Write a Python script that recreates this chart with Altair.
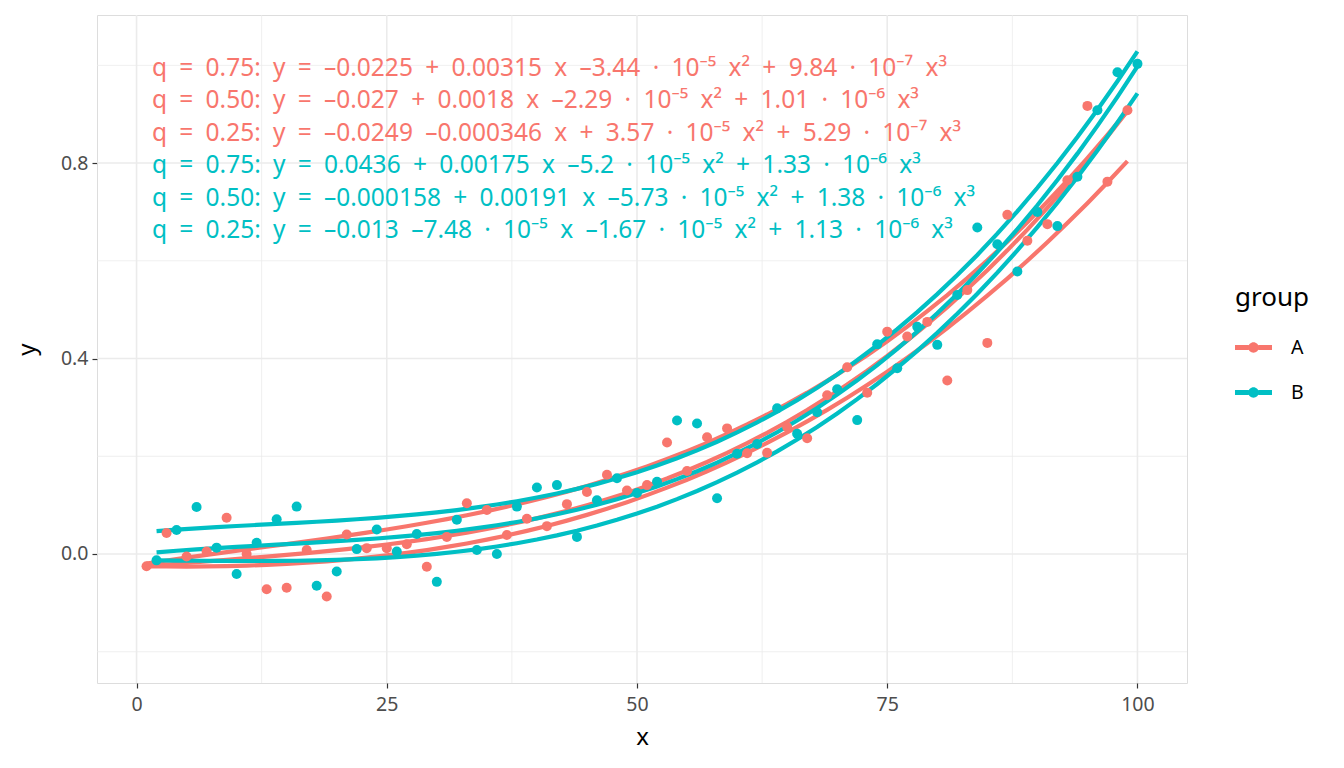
import altair as alt
import numpy as np
import pandas as pd

# ---- data ----
xA = list(range(1, 100, 2))
yA = [-0.025, 0.043, -0.005, 0.005, 0.074, 0.000, -0.072, -0.069, 0.008, -0.087,
      0.040, 0.012, 0.012, 0.020, -0.026, 0.035, 0.104, 0.090, 0.039, 0.072,
      0.057, 0.102, 0.127, 0.162, 0.130, 0.141, 0.228, 0.170, 0.239, 0.257,
      0.206, 0.207, 0.260, 0.237, 0.325, 0.382, 0.330, 0.455, 0.445, 0.475,
      0.355, 0.540, 0.432, 0.694, 0.641, 0.675, 0.765, 0.917, 0.762, 0.908]
xB = list(range(2, 101, 2))
yB = [-0.013, 0.049, 0.096, 0.013, -0.041, 0.023, 0.071, 0.097, -0.065, -0.036,
      0.010, 0.050, 0.005, 0.041, -0.057, 0.070, 0.008, 0.000, 0.097, 0.136,
      0.141, 0.035, 0.110, 0.155, 0.125, 0.148, 0.273, 0.267, 0.114, 0.205,
      0.225, 0.298, 0.246, 0.290, 0.337, 0.274, 0.429, 0.380, 0.465, 0.428,
      0.530, 0.668, 0.634, 0.578, 0.700, 0.671, 0.772, 0.908, 0.986, 1.003]

quantiles = ["0.75", "0.50", "0.25"]
coefA = [[-0.0225, 0.00315, -3.44e-5, 9.84e-7],
         [-0.027, 0.0018, -2.29e-5, 1.01e-6],
         [-0.0249, -0.000346, 3.57e-5, 5.29e-7]]
coefB = [[0.0436, 0.00175, -5.2e-5, 1.33e-6],
         [-0.000158, 0.00191, -5.73e-5, 1.38e-6],
         [-0.013, -7.48e-5, -1.67e-5, 1.13e-6]]

labelsA = ["q = 0.75: y = –0.0225 + 0.00315 x –3.44 · 10⁻⁵ x² + 9.84 · 10⁻⁷ x³",
           "q = 0.50: y = –0.027 + 0.0018 x –2.29 · 10⁻⁵ x² + 1.01 · 10⁻⁶ x³",
           "q = 0.25: y = –0.0249 –0.000346 x + 3.57 · 10⁻⁵ x² + 5.29 · 10⁻⁷ x³"]
labelsB = ["q = 0.75: y = 0.0436 + 0.00175 x –5.2 · 10⁻⁵ x² + 1.33 · 10⁻⁶ x³",
           "q = 0.50: y = –0.000158 + 0.00191 x –5.73 · 10⁻⁵ x² + 1.38 · 10⁻⁶ x³",
           "q = 0.25: y = –0.013 –7.48 · 10⁻⁵ x –1.67 · 10⁻⁵ x² + 1.13 · 10⁻⁶ x³"]

groups = ["A", "B"]
colors = ["#F8766D", "#00BFC4"]
x_major = [0, 25, 50, 75, 100]
x_minor = [12.5, 37.5, 62.5, 87.5]
y_major = [0.0, 0.4, 0.8]
y_minor = [-0.2, 0.2, 0.6, 1.0]

# ---- tables ----
pts = pd.DataFrame({"x": xA + xB, "y": yA + yB,
                    "group": ["A"] * len(xA) + ["B"] * len(xB)})

rows = []
for g, xs, coefs in [("A", xA, coefA), ("B", xB, coefB)]:
    xs_arr = np.array(xs, dtype=float)
    for q, c in zip(quantiles, coefs):
        yv = c[0] + c[1] * xs_arr + c[2] * xs_arr ** 2 + c[3] * xs_arr ** 3
        for xv, yy in zip(xs_arr, yv):
            rows.append({"x": xv, "y": yy, "group": g, "q": q, "key": g + q})
curves = pd.DataFrame(rows)


def widen(s):
    # plotmath-like wider spacing
    return s.replace(" ", "\u2002")


FONT = "Noto Sans"
xscale = alt.Scale(domain=[-3.95, 104.95], nice=False, zero=False)
yscale = alt.Scale(domain=[-0.264, 1.103], nice=False, zero=False)
cscale = alt.Scale(domain=groups, range=colors)

grid_col = "#EBEBEB"
gx_minor = alt.Chart(pd.DataFrame({"v": x_minor})).mark_rule(color=grid_col, strokeWidth=0.8).encode(
    x=alt.X("v:Q", scale=xscale))
gy_minor = alt.Chart(pd.DataFrame({"v": y_minor})).mark_rule(color=grid_col, strokeWidth=0.8).encode(
    y=alt.Y("v:Q", scale=yscale))
gx_major = alt.Chart(pd.DataFrame({"v": x_major})).mark_rule(color=grid_col, strokeWidth=1.6).encode(
    x=alt.X("v:Q", scale=xscale))
gy_major = alt.Chart(pd.DataFrame({"v": y_major})).mark_rule(color=grid_col, strokeWidth=1.6).encode(
    y=alt.Y("v:Q", scale=yscale))

axis_common = dict(grid=False, domain=False, tickColor="#333333", tickSize=5, tickWidth=1.2,
                   labelFontSize=19.5, labelColor="#4D4D4D", labelFont=FONT,
                   titleFontSize=24, titleFontWeight="normal", titleColor="black", titleFont=FONT)

legend_path = ("M-1,-0.135L-0.26,-0.135L-0.26,0.135L-1,0.135Z"
               "M0.26,-0.135L1,-0.135L1,0.135L0.26,0.135Z"
               "M-0.28,0A0.28,0.28 0 1,1 0.28,0A0.28,0.28 0 1,1 -0.28,0Z")

points = alt.Chart(pts).mark_circle(size=100, opacity=1).encode(
    x=alt.X("x:Q", scale=xscale, title="x",
            axis=alt.Axis(values=x_major, labelPadding=7, titlePadding=12, **axis_common)),
    y=alt.Y("y:Q", scale=yscale, title="y",
            axis=alt.Axis(values=y_major, format=".1f", labelPadding=4, titlePadding=21, **axis_common)),
    color=alt.Color("group:N", scale=cscale, title="group",
                    legend=alt.Legend(orient="none", legendX=1138, legendY=270,
                                      symbolType=legend_path, symbolSize=1369,
                                      symbolStrokeWidth=0, titleFontSize=26,
                                      titleFontWeight="normal", titleColor="black",
                                      titleFont=FONT, labelFont=FONT, labelFontSize=19.5,
                                      labelColor="black", labelOffset=19, rowPadding=17,
                                      titlePadding=18, padding=0)),
)

lines = alt.Chart(curves).mark_line(strokeWidth=4.2).encode(
    x=alt.X("x:Q", scale=xscale),
    y=alt.Y("y:Q", scale=yscale),
    color=alt.Color("group:N", scale=cscale),
    detail="key:N",
)

texts = []
all_labels = [(l, colors[0]) for l in labelsA] + [(l, colors[1]) for l in labelsB]
for i, (lab, col) in enumerate(all_labels):
    t = alt.Chart(pd.DataFrame({"label": [widen(lab)]})).mark_text(
        align="left", baseline="alphabetic", fontSize=24.5, font=FONT, color=col
    ).encode(text="label:N", x=alt.value(55), y=alt.value(61 + i * 32.4))
    texts.append(t)

chart = alt.layer(gx_minor, gy_minor, gx_major, gy_major, lines, points, *texts).properties(
    width=1090, height=668,
    autosize=alt.AutoSizeParams(type="none"),
    padding={"left": 89, "top": 7, "right": 140, "bottom": 70},
).configure_view(stroke="#333333", strokeWidth=1.2).configure(background="white")

chart.save("out.html", embed_options={"renderer": "svg", "actions": False})
